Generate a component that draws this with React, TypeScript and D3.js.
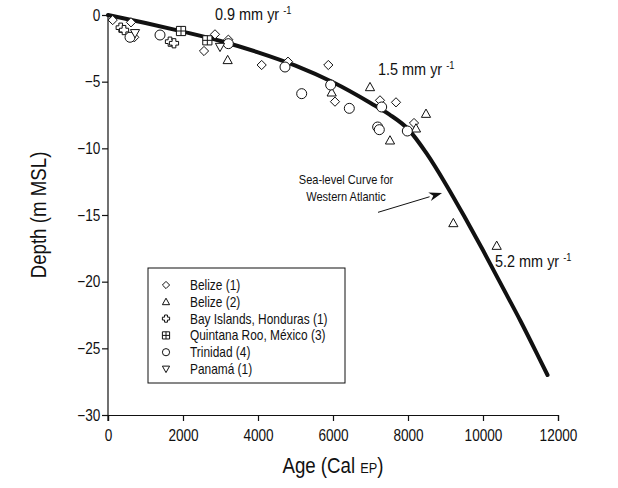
import React, { useEffect, useRef } from 'react'
import * as d3 from 'd3'

// [age (cal BP), depth (m MSL)]
const belize1 = [
  [125, -0.38], [613, -0.55], [701, -1.67], [2560, -2.7], [2853, -1.45],
  [3209, -1.85], [4098, -3.75], [4800, -3.5], [5875, -3.75], [6053, -6.5],
  [7253, -6.4], [7680, -6.55], [8160, -8.1],
]
const belize2 = [
  [3191, -3.37], [5965, -5.8], [6987, -5.4], [7520, -9.4], [8213, -8.5],
  [8480, -7.4], [9209, -15.6], [10365, -17.3],
]
const bayIslands = [[339, -0.95], [427, -1.13], [1653, -2.0], [1760, -2.12]]
const quintanaRoo = [[1947, -1.2], [2649, -1.9]]
const trinidad = [
  [587, -1.67], [1387, -1.5], [3209, -2.15], [4720, -3.9], [5165, -5.9],
  [5938, -5.25], [6435, -7.0], [7191, -8.4], [7235, -8.6], [7298, -6.9],
  [7982, -8.7],
]
const panama = [[720, -1.37], [2987, -2.4]]

// sea-level curve for the western Atlantic
const curve = [
  [0, 0], [1000, -0.6], [2000, -1.25], [3000, -1.95], [4000, -2.8],
  [5000, -3.8], [6000, -5.05], [7000, -6.6], [7500, -7.45], [8000, -8.55],
  [8500, -10.4], [9000, -12.65], [9500, -15.1], [10000, -17.65],
  [10500, -20.3], [11000, -22.95], [11500, -25.75], [11720, -27.0],
]

const xTicks = [0, 2000, 4000, 6000, 8000, 10000, 12000]
const yTicks = [0, -5, -10, -15, -20, -25, -30]

const series = [
  { label: 'Belize (1)', shape: 'diamond', data: belize1 },
  { label: 'Belize (2)', shape: 'triangle', data: belize2 },
  { label: 'Bay Islands, Honduras (1)', shape: 'cross', data: bayIslands },
  { label: 'Quintana Roo, México (3)', shape: 'squareplus', data: quintanaRoo },
  { label: 'Trinidad (4)', shape: 'circle', data: trinidad },
  { label: 'Panamá (1)', shape: 'triangledown', data: panama },
]

const FONT = "'Liberation Sans', Arial, sans-serif"
const SQUEEZE = 0.85 // fake a condensed face

// marker path centred on 0,0 with half size s
const markerPath = (shape, s) => {
  if (shape === 'diamond') return `M0,${-s}L${s},0L0,${s}L${-s},0Z`
  if (shape === 'triangle') return `M0,${-s}L${s},${s * 0.8}L${-s},${s * 0.8}Z`
  if (shape === 'triangledown') return `M0,${s}L${s},${-s * 0.8}L${-s},${-s * 0.8}Z`
  if (shape === 'cross') {
    const a = s * 0.4
    return `M${-a},${-s}H${a}V${-a}H${s}V${a}H${a}V${s}H${-a}V${a}H${-s}V${-a}H${-a}Z`
  }
  if (shape === 'squareplus') {
    return `M${-s},${-s}H${s}V${s}H${-s}Z M0,${-s}V${s} M${-s},0H${s}`
  }
  return d3.symbol().type(d3.symbolCircle).size(Math.PI * s * s)()
}

// condensed text helper
const ctext = (parent, x, y, str, size, anchor = 'start', rot = 0) => {
  const g = parent.append('g')
    .attr('transform', `translate(${x},${y}) rotate(${rot}) scale(${SQUEEZE},1)`)
  const t = g.append('text')
    .attr('text-anchor', anchor)
    .attr('font-family', FONT)
    .attr('font-size', size)
    .attr('fill', '#111')
    .text(str)
  return t
}

export default function App() {
  const svgRef = useRef(null)

  useEffect(() => {
    const svg = d3.select(svgRef.current)
    svg.selectAll('*').remove()

    const x = d3.scaleLinear().domain([0, 12000]).range([108, 558])
    const y = d3.scaleLinear().domain([-30, 0]).range([415, 15])

    // axes
    const xAxis = svg.append('g')
      .attr('transform', `translate(0,${y(-30)})`)
      .call(d3.axisBottom(x).tickValues(xTicks).tickSize(6).tickPadding(9).tickFormat(d3.format('d')))
    const yAxis = svg.append('g')
      .attr('transform', `translate(${x(0)},0)`)
      .call(d3.axisLeft(y).tickValues(yTicks).tickSize(6).tickPadding(3).tickFormat(d3.format('d')))
    ;[xAxis, yAxis].forEach(a => {
      a.select('.domain').attr('stroke', '#111').attr('stroke-width', 1.2)
      a.selectAll('line').attr('stroke', '#111').attr('stroke-width', 1.2)
      a.selectAll('text')
        .attr('font-family', FONT).attr('font-size', 16).attr('fill', '#111')
        .attr('transform', `scale(${SQUEEZE},1)`)
    })
    yAxis.select('.domain').attr('d', `M0,${y(0)}V${y(-30) + 6}`)

    // axis titles
    const xt = ctext(svg, 333, 473, 'Age (Cal ', 22, 'middle')
    xt.append('tspan').attr('font-size', 15).text('EP')
    xt.append('tspan').text(')')
    ctext(svg, 46, y(-15), 'Depth (m MSL)', 22, 'middle', -90)

    // sea-level curve
    const line = d3.line().x(d => x(d[0])).y(d => y(d[1])).curve(d3.curveMonotoneX)
    svg.append('path')
      .attr('d', line(curve))
      .attr('fill', 'none')
      .attr('stroke', '#111')
      .attr('stroke-width', 4)
      .attr('stroke-linecap', 'round')

    // data points
    series.forEach(s => {
      svg.append('g').selectAll('path')
        .data(s.data)
        .join('path')
        .attr('transform', d => `translate(${x(d[0])},${y(d[1])})`)
        .attr('d', markerPath(s.shape, s.shape === 'circle' ? 5 : 4.6))
        .attr('fill', '#fff')
        .attr('stroke', '#111')
        .attr('stroke-width', 1)
    })

    // rate annotations
    const rates = [
      { t: '0.9 mm yr', at: [2853, -0.4] },
      { t: '1.5 mm yr', at: [7200, -4.5] },
      { t: '5.2 mm yr', at: [10320, -18.9] },
    ]
    rates.forEach(r => {
      const t = ctext(svg, x(r.at[0]), y(r.at[1]), r.t + ' ', 17)
      t.append('tspan').attr('dy', -6).attr('font-size', 11).text('-1')
    })

    // curve label and arrow
    ctext(svg, x(6347), y(-12.7), 'Sea-level Curve for', 13, 'middle')
    ctext(svg, x(6347), y(-13.95), 'Western Atlantic', 13, 'middle')

    const a0 = [x(7200), y(-14.8)]
    const a1 = [x(8907), y(-13.35)]
    const ang = Math.atan2(a1[1] - a0[1], a1[0] - a0[0])
    const hl = 13, hw = 4.5
    const bx = a1[0] - hl * Math.cos(ang), by = a1[1] - hl * Math.sin(ang)
    svg.append('line')
      .attr('x1', a0[0]).attr('y1', a0[1]).attr('x2', bx).attr('y2', by)
      .attr('stroke', '#111').attr('stroke-width', 1)
    svg.append('path')
      .attr('d', `M${a1[0]},${a1[1]}L${bx - hw * Math.sin(ang)},${by + hw * Math.cos(ang)}L${a1[0] - hl * 0.7 * Math.cos(ang)},${a1[1] - hl * 0.7 * Math.sin(ang)}L${bx + hw * Math.sin(ang)},${by - hw * Math.cos(ang)}Z`)
      .attr('fill', '#111')

    // legend
    const lg = svg.append('g')
    lg.append('rect')
      .attr('x', 148).attr('y', 268).attr('width', 197).attr('height', 115)
      .attr('fill', '#fff').attr('stroke', '#111').attr('stroke-width', 1)
    series.forEach((s, i) => {
      const yy = 285 + i * 16.8
      lg.append('path')
        .attr('transform', `translate(166,${yy})`)
        .attr('d', markerPath(s.shape, 3.6))
        .attr('fill', '#fff').attr('stroke', '#111').attr('stroke-width', 1)
      ctext(lg, 190, yy + 5, s.label, 14)
    })
  }, [])

  return (
    <svg
      ref={svgRef}
      width={618}
      height={488}
      style={{ position: 'absolute', left: 0, top: 0, background: '#fff' }}
    />
  )
}
